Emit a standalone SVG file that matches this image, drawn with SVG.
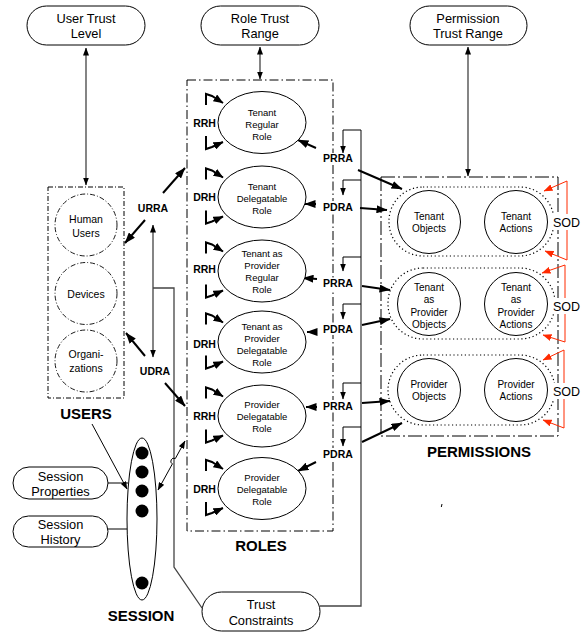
<svg xmlns="http://www.w3.org/2000/svg" width="581" height="635" viewBox="0 0 581 635">
<defs>
<style>
text{font-family:"Liberation Sans",Arial,Helvetica,sans-serif;fill:#000}
.pt{font-size:12.8px;text-anchor:middle}
.et{font-size:9.5px;text-anchor:middle}
.ct{font-size:10px;text-anchor:middle}
.ut{font-size:10.5px;text-anchor:middle}
.ht{font-size:10.5px;font-weight:bold;text-anchor:middle}
.big{font-size:15px;font-weight:bold;text-anchor:middle}
.sod{font-size:12.5px}
.pill{fill:#fff;stroke:#000;stroke-width:1}
.role{fill:#fff;stroke:#000;stroke-width:1}
.pc{fill:#fff;stroke:#000;stroke-width:1}
.uc{fill:#fff;stroke:#000;stroke-width:0.9;stroke-dasharray:5,2,1,2}
.thick{fill:none;stroke:#000;stroke-width:2;marker-end:url(#ah)}
.hier{fill:none;stroke:#000;stroke-width:2;marker-end:url(#ahs)}
.thin{fill:none;stroke:#000;stroke-width:1}
.tarr{fill:none;stroke:#000;stroke-width:1;marker-end:url(#as)}
.dbl{fill:none;stroke:#333;stroke-width:1.2;marker-start:url(#as);marker-end:url(#as)}
.gray{fill:none;stroke:#444;stroke-width:1.3}
.red{fill:none;stroke:#ff2a00;stroke-width:1}
.reda{fill:none;stroke:#ff2a00;stroke-width:1;marker-end:url(#ar)}
.bg{fill:#fff}
</style>
<marker id="ah" markerUnits="userSpaceOnUse" markerWidth="11" markerHeight="8" refX="10.5" refY="4" orient="auto"><path d="M0,0 L11,4 L0,8 z" fill="#000"/></marker>
<marker id="ahs" markerUnits="userSpaceOnUse" markerWidth="10" markerHeight="8" refX="9.5" refY="4" orient="auto"><path d="M0,0 L10,4 L0,8 z" fill="#000"/></marker>
<marker id="as" markerUnits="userSpaceOnUse" markerWidth="8" markerHeight="6" refX="7.5" refY="3" orient="auto-start-reverse"><path d="M0,0 L8,3 L0,6 z" fill="#000"/></marker>
<marker id="ar" markerUnits="userSpaceOnUse" markerWidth="9" markerHeight="7" refX="8.5" refY="3.5" orient="auto"><path d="M0,0 L9,3.5 L0,7 z" fill="#ff2a00"/></marker>
</defs>
<rect width="581" height="635" fill="#fff"/>

<g id="containers">
<rect id="users-box" x="48" y="187" width="76" height="211" fill="none" stroke="#000" stroke-width="1" stroke-dasharray="5,2,1,2"/>
<rect id="roles-box" x="187" y="80" width="146" height="451" fill="none" stroke="#000" stroke-width="1" stroke-dasharray="9,3,1.5,3"/>
<rect id="permissions-box" x="381" y="177" width="177" height="259" fill="none" stroke="#000" stroke-width="1" stroke-dasharray="14,3,2,3"/>
<rect x="389" y="187" width="165" height="69" rx="34" fill="none" stroke="#000" stroke-width="1.2" stroke-dasharray="1.2,2.6"/>
<rect x="388" y="268" width="167" height="71" rx="35" fill="none" stroke="#000" stroke-width="1.2" stroke-dasharray="1.2,2.6"/>
<rect x="388" y="355" width="167" height="70" rx="35" fill="none" stroke="#000" stroke-width="1.2" stroke-dasharray="1.2,2.6"/>
</g>

<g id="connectors">
<path class="dbl" d="M86,48 V185"/>
<path class="dbl" d="M260,47 V79"/>
<path class="dbl" d="M468,47 V176"/>
<path class="dbl" d="M153,225 V357"/>
<path class="gray" d="M153,288 H174 V567 L202,608"/>
<path class="gray" d="M361,130 V606 H320"/>
<path class="tarr" d="M361,130 H343 V153"/>
<path class="tarr" d="M361,180 H343 V195"/>
<path class="tarr" d="M361,257 H343 V271"/>
<path class="tarr" d="M361,304 H343 V319"/>
<path class="tarr" d="M361,383 H343 V399"/>
<path class="tarr" d="M361,427 H343 V446"/>
<path class="thick" d="M163,193 L185,168"/>
<path class="thick" d="M145,220 L125,243"/>
<path class="thick" d="M145,356 L126,333"/>
<path class="thick" d="M165,383 L185,406"/>
<path class="thick" d="M316,148 L298,140"/>
<path class="thick" d="M316,204 L305,204"/>
<path class="thick" d="M317,279 L303,278"/>
<path class="thick" d="M317,332 L307,332"/>
<path class="thick" d="M317,407 L306,407"/>
<path class="thick" d="M316,462 L298,471"/>
<path class="thick" d="M358,170 L402,189"/>
<path class="thick" d="M360,208 L387,210"/>
<path class="thick" d="M362,286 L390,290"/>
<path class="thick" d="M362,325 L390,319"/>
<path class="thick" d="M362,403 L390,401"/>
<path class="thick" d="M362,442 L402,423"/>
<path class="hier" d="M206,105 V94 L212,96 L223,103"/>
<path class="hier" d="M206,136 V149 L212,147 L223,142"/>
<path class="hier" d="M206,179.5 V168.5 L212,170.5 L223,177.5"/>
<path class="hier" d="M206,210.5 V223.5 L212,221.5 L223,216.5"/>
<path class="hier" d="M206,253.5 V242.5 L212,244.5 L223,251.5"/>
<path class="hier" d="M206,284.5 V297.5 L212,295.5 L223,290.5"/>
<path class="hier" d="M206,324.5 V313.5 L212,315.5 L223,322.5"/>
<path class="hier" d="M206,355.5 V368.5 L212,366.5 L223,361.5"/>
<path class="hier" d="M206,398.5 V387.5 L212,389.5 L223,396.5"/>
<path class="hier" d="M206,429.5 V442.5 L212,440.5 L223,435.5"/>
<path class="hier" d="M206,471 V460 L212,462 L223,469"/>
<path class="hier" d="M206,502 V515 L212,513 L223,508"/>
<path class="tarr" d="M92,424 L127,489"/>
<path class="thin" d="M108,483 H128"/>
<path class="thin" d="M108,529 H127"/>
<path fill="none" stroke="#000" stroke-width="1" marker-start="url(#as)" marker-end="url(#as)" d="M158,490 L172.4,463.9 A3,3 0 0 1 175.3,458.6 L185,441"/>
<path class="red" d="M567,181 V260"/>
<path class="reda" d="M567,181 L544,191"/>
<path class="reda" d="M567,260 L545,251"/>
<path class="red" d="M565,265 V342"/>
<path class="reda" d="M565,265 L542,273"/>
<path class="reda" d="M565,342 L543,335"/>
<path class="red" d="M564,350 V428"/>
<path class="reda" d="M564,350 L543,360"/>
<path class="reda" d="M564,428 L543,420"/>
<path class="thin" d="M442,504 L441.3,507"/>
</g>

<g id="user-trust-level"><rect class="pill" x="27" y="6" width="118" height="39" rx="19.5"/><text class="pt" x="86" y="23">User Trust</text><text class="pt" x="86" y="38">Level</text></g>
<g id="role-trust-range"><rect class="pill" x="201" y="6" width="118" height="39" rx="19.5"/><text class="pt" x="260" y="23">Role Trust</text><text class="pt" x="260" y="38">Range</text></g>
<g id="permission-trust-range"><rect class="pill" x="410" y="6" width="117" height="39" rx="19.5"/><text class="pt" x="468" y="23">Permission</text><text class="pt" x="468" y="38">Trust Range</text></g>

<g id="human-users"><circle class="uc" cx="86" cy="225" r="31"/><text class="ut" x="86" y="223">Human</text><text class="ut" x="86" y="236.5">Users</text></g>
<g id="devices"><circle class="uc" cx="86" cy="293.5" r="31"/><text class="ut" x="86" y="297.5">Devices</text></g>
<g id="organizations"><circle class="uc" cx="86" cy="361" r="31"/><text class="ut" x="86" y="358">Organi-</text><text class="ut" x="86" y="372">zations</text></g>
<g id="users-label"><text class="big" x="86" y="419">USERS</text></g>

<g id="role-1"><ellipse class="role" cx="262" cy="122.5" rx="44" ry="31"/><text class="et" x="262" y="116">Tenant</text><text class="et" x="262" y="128">Regular</text><text class="et" x="262" y="139.5">Role</text><text class="ht" x="204.5" y="126.5">RRH</text></g>
<g id="role-2"><ellipse class="role" cx="262" cy="197" rx="44" ry="31"/><text class="et" x="262" y="190">Tenant</text><text class="et" x="262" y="202">Delegatable</text><text class="et" x="262" y="213.5">Role</text><text class="ht" x="204.5" y="201">DRH</text></g>
<g id="role-3"><ellipse class="role" cx="262" cy="271" rx="44" ry="31"/><text class="et" x="262" y="257">Tenant as</text><text class="et" x="262" y="269">Provider</text><text class="et" x="262" y="281">Regular</text><text class="et" x="262" y="293">Role</text><text class="ht" x="204.5" y="273">RRH</text></g>
<g id="role-4"><ellipse class="role" cx="262" cy="342" rx="44" ry="31"/><text class="et" x="262" y="330">Tenant as</text><text class="et" x="262" y="342">Provider</text><text class="et" x="262" y="354">Delegatable</text><text class="et" x="262" y="366">Role</text><text class="ht" x="204.5" y="347.5">DRH</text></g>
<g id="role-5"><ellipse class="role" cx="262" cy="416" rx="44" ry="31"/><text class="et" x="262" y="408">Provider</text><text class="et" x="262" y="420">Delegatable</text><text class="et" x="262" y="432">Role</text><text class="ht" x="204.5" y="420">RRH</text></g>
<g id="role-6"><ellipse class="role" cx="262" cy="488.5" rx="44" ry="31"/><text class="et" x="262" y="481">Provider</text><text class="et" x="262" y="493">Delegatable</text><text class="et" x="262" y="504.5">Role</text><text class="ht" x="204.5" y="493">DRH</text></g>
<g id="roles-label"><text class="big" x="261" y="551">ROLES</text></g>

<g id="assignment-labels">
<text class="ht" x="153" y="212">URRA</text>
<text class="ht" x="155" y="375">UDRA</text>
<rect class="bg" x="322" y="153" width="33" height="12"/><text class="ht" x="338" y="162">PRRA</text>
<rect class="bg" x="322" y="201" width="33" height="12"/><text class="ht" x="338" y="210.5">PDRA</text>
<rect class="bg" x="322" y="278" width="33" height="12"/><text class="ht" x="338" y="287">PRRA</text>
<rect class="bg" x="322" y="323" width="33" height="12"/><text class="ht" x="338" y="333">PDRA</text>
<rect class="bg" x="322" y="400" width="33" height="12"/><text class="ht" x="338" y="410">PRRA</text>
<rect class="bg" x="322" y="448" width="33" height="12"/><text class="ht" x="338" y="458">PDRA</text>
</g>

<g id="tenant-objects"><circle class="pc" cx="429" cy="222" r="31.5"/><text class="ct" x="429" y="220">Tenant</text><text class="ct" x="429" y="232">Objects</text></g>
<g id="tenant-actions"><circle class="pc" cx="516" cy="222" r="31.5"/><text class="ct" x="516" y="220">Tenant</text><text class="ct" x="516" y="232">Actions</text></g>
<g id="tp-objects"><circle class="pc" cx="429" cy="304" r="31.5"/><text class="ct" x="429" y="291">Tenant</text><text class="ct" x="429" y="303">as</text><text class="ct" x="429" y="315.5">Provider</text><text class="ct" x="429" y="327.5">Objects</text></g>
<g id="tp-actions"><circle class="pc" cx="516" cy="304" r="31.5"/><text class="ct" x="516" y="291">Tenant</text><text class="ct" x="516" y="303">as</text><text class="ct" x="516" y="315.5">Provider</text><text class="ct" x="516" y="327.5">Actions</text></g>
<g id="provider-objects"><circle class="pc" cx="429" cy="390" r="31.5"/><text class="ct" x="429" y="388">Provider</text><text class="ct" x="429" y="400">Objects</text></g>
<g id="provider-actions"><circle class="pc" cx="516" cy="390" r="31.5"/><text class="ct" x="516" y="388">Provider</text><text class="ct" x="516" y="400">Actions</text></g>
<g id="sod-labels">
<rect class="bg" x="552" y="214" width="29" height="16"/><text class="sod" x="553" y="227">SOD</text>
<rect class="bg" x="552" y="298" width="29" height="16"/><text class="sod" x="553" y="311">SOD</text>
<rect class="bg" x="552" y="383" width="29" height="16"/><text class="sod" x="553" y="396">SOD</text>
</g>
<g id="permissions-label"><text class="big" x="479" y="457">PERMISSIONS</text></g>

<g id="session"><ellipse cx="142" cy="519" rx="15" ry="81" fill="#fff" stroke="#000" stroke-width="1"/>
<circle cx="142" cy="453" r="6.5"/><circle cx="142" cy="472" r="6.5"/><circle cx="142" cy="491" r="6.5"/><circle cx="142" cy="511" r="6.5"/><circle cx="142" cy="583" r="6.5"/>
<text class="big" x="141" y="621">SESSION</text></g>
<g id="session-properties"><rect class="pill" x="13" y="467" width="95" height="32" rx="16"/><text class="pt" x="60.5" y="481">Session</text><text class="pt" x="60.5" y="496">Properties</text></g>
<g id="session-history"><rect class="pill" x="13" y="516" width="95" height="31" rx="15.5"/><text class="pt" x="60.5" y="529">Session</text><text class="pt" x="60.5" y="544">History</text></g>
<g id="trust-constraints"><rect class="pill" x="202" y="592" width="118" height="39" rx="19.5"/><text class="pt" x="261" y="609">Trust</text><text class="pt" x="261" y="625">Constraints</text></g>
</svg>
